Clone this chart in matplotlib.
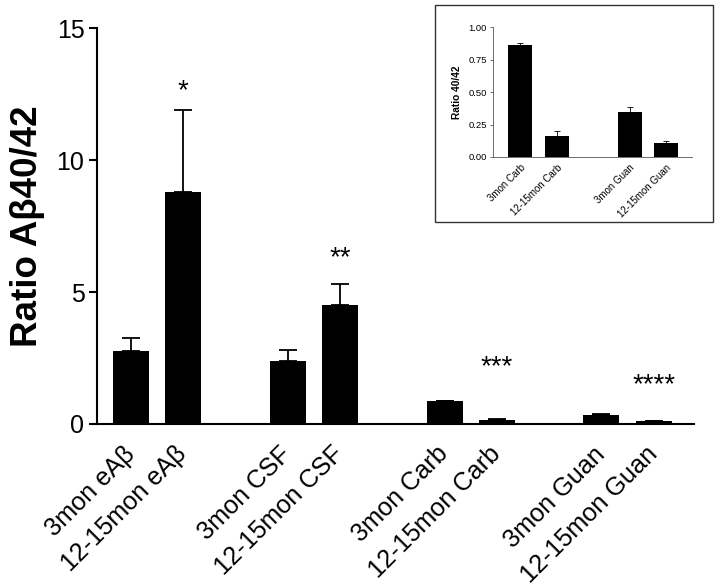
import numpy as np
import matplotlib
matplotlib.use("Agg")
from matplotlib import pyplot as plt
from matplotlib.patches import Rectangle
from matplotlib.transforms import ScaledTranslation

plt.rcParams['font.family'] = ['Liberation Sans', 'DejaVu Sans']

# main panel
labels = ["3mon eAβ", "12-15mon eAβ", "3mon CSF", "12-15mon CSF",
          "3mon Carb", "12-15mon Carb", "3mon Guan", "12-15mon Guan"]
means = [2.77, 8.79, 2.39, 4.50, 0.86, 0.16, 0.35, 0.11]
sems = [0.49, 3.10, 0.41, 0.80, 0.02, 0.04, 0.04, 0.02]
stars = ["", "*", "", "**", "", "***", "", "****"]
star_y = [0, 12.6, 0, 6.3, 0, 2.15, 0, 1.45]
yticks = [0, 5, 10, 15]

# inset panel
in_labels = ["3mon Carb", "12-15mon Carb", "3mon Guan", "12-15mon Guan"]
in_means = [0.86, 0.16, 0.35, 0.11]
in_sems = [0.015, 0.04, 0.035, 0.015]
in_yticks = [0.00, 0.25, 0.50, 0.75, 1.00]


def bar_panel(ax, x, vals, errs, width, capsize, elw):
    ax.bar(x, vals, width=width, color="black", zorder=2)
    ax.errorbar(x, vals, yerr=[np.zeros(len(errs)), errs], fmt="none",
                ecolor="black", elinewidth=elw, capsize=capsize,
                capthick=elw, zorder=1)


def main():
    fig = plt.figure(figsize=(7.2, 5.88), dpi=100)

    ax = fig.add_axes([0.1347, 0.279, 0.829, 0.673])
    x = np.array([0, 1, 3, 4, 6, 7, 9, 10])
    bar_panel(ax, x, means, sems, 0.69, 6.5, 1.3)
    for xi, s, sy in zip(x, stars, star_y):
        if s:
            ax.text(xi, sy, s, ha="center", va="center", fontsize=20)
    ax.set_xlim(-0.65, 10.77)
    ax.set_ylim(0, 15)
    ax.set_yticks(yticks)
    ax.set_yticklabels([str(t) for t in yticks], fontsize=18)
    ax.set_xticks(x)
    ax.set_xticklabels(labels, rotation=45, ha="right", va="center",
                       rotation_mode="anchor", fontsize=18.2)
    ax.tick_params(axis="x", length=0, pad=19)
    ax.tick_params(axis="y", length=6, width=1.5, pad=3)
    for side in ["top", "right"]:
        ax.spines[side].set_visible(False)
    for side in ["left", "bottom"]:
        ax.spines[side].set_linewidth(1.5)
    ax.set_ylabel("Ratio Aβ40/42", fontsize=26.5, fontweight="bold", labelpad=8)

    # inset frame
    fig.patches.append(Rectangle((0.604, 0.622), 0.386, 0.3695,
                                 transform=fig.transFigure, fill=False,
                                 edgecolor="#333333", linewidth=1.0))

    ins = fig.add_axes([0.685, 0.733, 0.276, 0.221])
    xi = np.array([0, 1, 3, 4])
    bar_panel(ins, xi, in_means, in_sems, 0.66, 2.5, 0.6)
    ins.set_xlim(-0.74, 4.71)
    ins.set_ylim(0, 1.0)
    ins.set_yticks(in_yticks)
    ins.set_yticklabels(["%.2f" % t for t in in_yticks], fontsize=6.8)
    ins.set_xticks(xi)
    ins.set_xticklabels(in_labels, rotation=45, ha="right",
                        rotation_mode="anchor", fontsize=7)
    shift = ScaledTranslation(3 / 72, 0, fig.dpi_scale_trans)
    for lab in ins.get_xticklabels():
        lab.set_transform(lab.get_transform() + shift)
    ins.tick_params(axis="x", length=0, pad=4)
    ins.tick_params(axis="y", length=2.5, width=0.6, pad=2, color="#555555")
    for side in ["top", "right"]:
        ins.spines[side].set_visible(False)
    for side in ["left", "bottom"]:
        ins.spines[side].set_linewidth(0.6)
        ins.spines[side].set_color("#555555")
    ins.set_ylabel("Ratio 40/42", fontsize=7.3, fontweight="bold", labelpad=5)

    fig.savefig("out.png", dpi=100)


if __name__ == '__main__':
    main()
